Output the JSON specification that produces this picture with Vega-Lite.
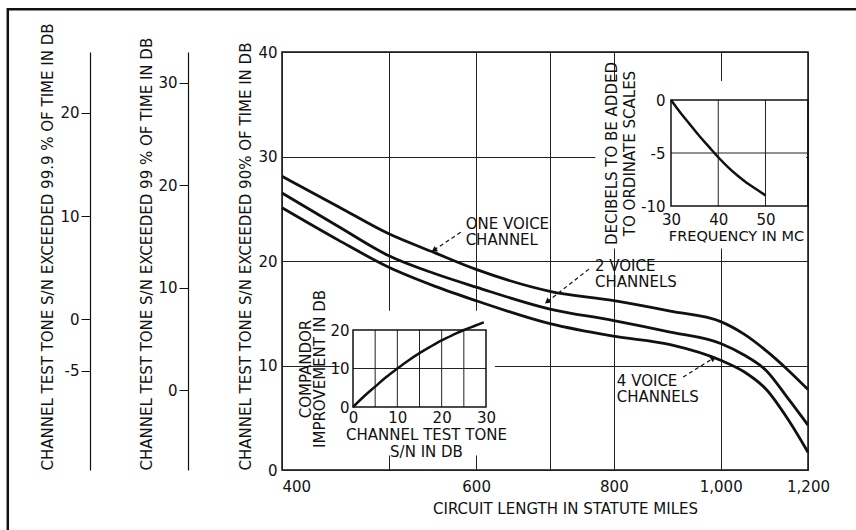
{
  "$schema": "https://vega.github.io/schema/vega-lite/v6.json",
  "width": 526,
  "height": 418,
  "autosize": {"type": "none"},
  "padding": {"left": 282, "top": 52, "right": 48, "bottom": 60},
  "background": "white",
  "config": {
    "font": "DejaVu Sans",
    "view": {"stroke": "#111", "strokeWidth": 1.5},
    "axis": {
      "labelFont": "DejaVu Sans", "titleFont": "DejaVu Sans",
      "labelFontSize": 15, "titleFontSize": 15, "titleFontWeight": "normal",
      "labelColor": "#111", "titleColor": "#111", "domainColor": "#111", "tickColor": "#111",
      "gridColor": "#222", "gridOpacity": 1, "gridWidth": 1,
      "labelOverlap": false, "labelBound": false, "labelFlush": false
    },
    "text": {"font": "DejaVu Sans", "fontSize": 15, "color": "#111"}
  },
  "datasets": {
    "curves": [
      {"series": "one", "miles": 400, "db": 28.1}, {"series": "one", "miles": 450, "db": 25.2}, {"series": "one", "miles": 500, "db": 22.6}, {"series": "one", "miles": 550, "db": 20.8}, {"series": "one", "miles": 600, "db": 19.2}, {"series": "one", "miles": 700, "db": 17.1}, {"series": "one", "miles": 800, "db": 16.2}, {"series": "one", "miles": 900, "db": 15.2}, {"series": "one", "miles": 1000, "db": 14.2}, {"series": "one", "miles": 1050, "db": 13.0}, {"series": "one", "miles": 1100, "db": 11.4}, {"series": "one", "miles": 1150, "db": 9.6}, {"series": "one", "miles": 1200, "db": 7.7},
      {"series": "two", "miles": 400, "db": 26.5}, {"series": "two", "miles": 450, "db": 23.3}, {"series": "two", "miles": 500, "db": 20.5}, {"series": "two", "miles": 550, "db": 18.8}, {"series": "two", "miles": 600, "db": 17.5}, {"series": "two", "miles": 700, "db": 15.4}, {"series": "two", "miles": 800, "db": 14.3}, {"series": "two", "miles": 900, "db": 13.2}, {"series": "two", "miles": 1000, "db": 12.1}, {"series": "two", "miles": 1050, "db": 11.0}, {"series": "two", "miles": 1100, "db": 9.5}, {"series": "two", "miles": 1150, "db": 6.9}, {"series": "two", "miles": 1200, "db": 4.3},
      {"series": "four", "miles": 400, "db": 25.1}, {"series": "four", "miles": 450, "db": 22.0}, {"series": "four", "miles": 500, "db": 19.4}, {"series": "four", "miles": 550, "db": 17.6}, {"series": "four", "miles": 600, "db": 16.2}, {"series": "four", "miles": 700, "db": 14.0}, {"series": "four", "miles": 800, "db": 12.8}, {"series": "four", "miles": 900, "db": 12.0}, {"series": "four", "miles": 1000, "db": 10.5}, {"series": "four", "miles": 1050, "db": 9.4}, {"series": "four", "miles": 1100, "db": 7.7}, {"series": "four", "miles": 1150, "db": 4.9}, {"series": "four", "miles": 1200, "db": 1.7}
    ],
    "labels": [
      {"miles": 587, "db": 23.5, "label": "ONE VOICE\nCHANNEL"},
      {"miles": 769, "db": 19.5, "label": "2 VOICE\nCHANNELS"},
      {"miles": 805, "db": 8.5, "label": "4 VOICE\nCHANNELS"}
    ],
    "arrows": [
      {"arrow": "a1", "miles": 582, "db": 22.8}, {"arrow": "a1", "miles": 549.5, "db": 21.05},
      {"arrow": "a2", "miles": 761, "db": 19.3}, {"arrow": "a2", "miles": 696, "db": 16.1},
      {"arrow": "a3", "miles": 924.6, "db": 8.9}, {"arrow": "a3", "miles": 985, "db": 10.7}
    ],
    "freq": [
      {"f": 30, "d": 0}, {"f": 32, "d": -1.2}, {"f": 34, "d": -2.3}, {"f": 36, "d": -3.4}, {"f": 38, "d": -4.4}, {"f": 40, "d": -5.4}, {"f": 42, "d": -6.3}, {"f": 44, "d": -7.1}, {"f": 46, "d": -7.8}, {"f": 48, "d": -8.4}, {"f": 50, "d": -9.0}
    ],
    "freqGrid": [{"f": 40}, {"f": 50}],
    "comp": [
      {"s": 0, "c": 0}, {"s": 2.5, "c": 2.8}, {"s": 5, "c": 5.3}, {"s": 7.5, "c": 7.8}, {"s": 10, "c": 10.0}, {"s": 12.5, "c": 12.1}, {"s": 15, "c": 14.0}, {"s": 17.5, "c": 15.7}, {"s": 20, "c": 17.3}, {"s": 22.5, "c": 18.7}, {"s": 25, "c": 20.0}, {"s": 27.5, "c": 21.1}, {"s": 29.5, "c": 22.0}
    ],
    "compGrid": [{"s": 5}, {"s": 10}, {"s": 15}, {"s": 20}, {"s": 25}],
    "ax1": [{"v": -5}, {"v": 0}, {"v": 10}, {"v": 20}],
    "ax2": [{"v": 0}, {"v": 10}, {"v": 20}, {"v": 30}]
  },
  "resolve": {
    "scale": {"x": "independent", "y": "independent"},
    "axis": {"x": "independent", "y": "independent"}
  },
  "layer": [
    {
      "data": {"values": [{}]},
      "mark": {"type": "rect", "fill": null, "filled": false, "stroke": "#111", "strokeWidth": 2.5},
      "encoding": {
        "x": {"datum": 225.6, "type": "quantitative", "scale": {"type": "log", "domain": [400, 1200], "nice": false}, "axis": null},
        "x2": {"datum": 1366},
        "y": {"datum": 44.1, "type": "quantitative", "scale": {"domain": [0, 40], "nice": false, "zero": false}, "axis": null},
        "y2": {"datum": -6.7}
      }
    },
    {
      "data": {"name": "curves"},
      "mark": {"type": "line", "color": "#111", "strokeWidth": 2.8, "interpolate": "monotone"},
      "encoding": {
        "x": {
          "field": "miles", "type": "quantitative",
          "scale": {"type": "log", "domain": [400, 1200], "nice": false},
          "axis": {
            "orient": "bottom", "values": [400, 500, 600, 700, 800, 1000, 1200],
            "labelExpr": "datum.value == 500 || datum.value == 700 ? '' : format(datum.value, ',')",
            "labelAlign": {"condition": {"test": "datum.value == 400", "value": "left"}, "value": "center"},
            "grid": true, "ticks": false, "tickSize": 0, "domain": false, "labelPadding": 9.5,
            "title": "CIRCUIT LENGTH IN STATUTE MILES", "titlePadding": 7, "titleX": 283, "zindex": 0
          }
        },
        "y": {
          "field": "db", "type": "quantitative",
          "scale": {"domain": [0, 40], "nice": false, "zero": false},
          "axis": {
            "orient": "left", "values": [0, 10, 20, 30, 40], "grid": true, "ticks": false, "tickSize": 0,
            "domain": false, "labelPadding": 5,
            "title": "CHANNEL TEST TONE S/N EXCEEDED 90% OF TIME IN DB", "titleAnchor": "start", "titlePadding": 4, "zindex": 0
          }
        },
        "detail": {"field": "series"}
      }
    },
    {
      "data": {"name": "labels"},
      "mark": {"type": "text", "align": "left", "baseline": "middle", "fontSize": 15, "lineHeight": 16, "lineBreak": "\n", "color": "#111"},
      "encoding": {
        "x": {"field": "miles", "type": "quantitative", "scale": {"type": "log", "domain": [400, 1200], "nice": false}, "axis": null},
        "y": {"field": "db", "type": "quantitative", "scale": {"domain": [0, 40], "nice": false, "zero": false}, "axis": null},
        "text": {"field": "label"}
      }
    },
    {
      "data": {"name": "arrows"},
      "mark": {"type": "line", "color": "#111", "strokeWidth": 1.2, "strokeDash": [4, 3]},
      "encoding": {
        "x": {"field": "miles", "type": "quantitative", "scale": {"type": "log", "domain": [400, 1200], "nice": false}, "axis": null},
        "y": {"field": "db", "type": "quantitative", "scale": {"domain": [0, 40], "nice": false, "zero": false}, "axis": null},
        "detail": {"field": "arrow"}
      }
    },
    {
      "data": {"values": [{}]},
      "mark": {"type": "point", "shape": "triangle-up", "filled": true, "color": "#111", "opacity": 1, "size": 40, "angle": 237},
      "encoding": {
        "x": {"datum": 549.5, "type": "quantitative", "scale": {"type": "log", "domain": [400, 1200], "nice": false}, "axis": null},
        "y": {"datum": 21.05, "type": "quantitative", "scale": {"domain": [0, 40], "nice": false, "zero": false}, "axis": null}
      }
    },
    {
      "data": {"values": [{}]},
      "mark": {"type": "point", "shape": "triangle-up", "filled": true, "color": "#111", "opacity": 1, "size": 40, "angle": 232},
      "encoding": {
        "x": {"datum": 696, "type": "quantitative", "scale": {"type": "log", "domain": [400, 1200], "nice": false}, "axis": null},
        "y": {"datum": 16.1, "type": "quantitative", "scale": {"domain": [0, 40], "nice": false, "zero": false}, "axis": null}
      }
    },
    {
      "data": {"values": [{}]},
      "mark": {"type": "point", "shape": "triangle-up", "filled": true, "color": "#111", "opacity": 1, "size": 40, "angle": 58},
      "encoding": {
        "x": {"datum": 985, "type": "quantitative", "scale": {"type": "log", "domain": [400, 1200], "nice": false}, "axis": null},
        "y": {"datum": 10.7, "type": "quantitative", "scale": {"domain": [0, 40], "nice": false, "zero": false}, "axis": null}
      }
    },
    {
      "data": {"name": "ax1"},
      "mark": {"type": "point", "opacity": 0},
      "encoding": {
        "y": {
          "field": "v", "type": "quantitative",
          "scale": {"domain": [-14.6, 25.9], "nice": false, "zero": false},
          "axis": {
            "orient": "left", "offset": 192, "values": [-5, 0, 10, 20], "labelExpr": "'' + datum.value",
            "grid": false, "tickSize": 9, "labelPadding": 2, "domainWidth": 1.2,
            "title": "CHANNEL TEST TONE S/N EXCEEDED 99.9 % OF TIME IN DB", "titleAnchor": "start", "titlePadding": 4
          }
        }
      }
    },
    {
      "data": {"name": "ax2"},
      "mark": {"type": "point", "opacity": 0},
      "encoding": {
        "y": {
          "field": "v", "type": "quantitative",
          "scale": {"domain": [-7.8, 33.0], "nice": false, "zero": false},
          "axis": {
            "orient": "left", "offset": 94, "values": [0, 10, 20, 30],
            "grid": false, "tickSize": 9, "labelPadding": 2, "domainWidth": 1.2,
            "title": "CHANNEL TEST TONE S/N EXCEEDED 99 % OF TIME IN DB", "titleAnchor": "start", "titlePadding": 3
          }
        }
      }
    },
    {
      "data": {"values": [{}]},
      "mark": {"type": "rect", "fill": "white", "strokeWidth": 0},
      "encoding": {
        "x": {"datum": 14, "type": "quantitative", "scale": {"domain": [30, 59], "range": [389, 526], "nice": false, "zero": false}, "axis": null},
        "x2": {"datum": 58.6},
        "y": {"datum": 1.8, "type": "quantitative", "scale": {"domain": [-10, 0], "range": [154, 48], "nice": false, "zero": false}, "axis": null},
        "y2": {"datum": -14}
      }
    },
    {
      "data": {"name": "freqGrid"},
      "mark": {"type": "rule", "color": "#222", "strokeWidth": 1},
      "encoding": {
        "x": {"field": "f", "type": "quantitative", "scale": {"domain": [30, 59], "range": [389, 526], "nice": false, "zero": false}, "axis": null},
        "y": {"datum": -10, "type": "quantitative", "scale": {"domain": [-10, 0], "range": [154, 48], "nice": false, "zero": false}, "axis": null},
        "y2": {"datum": 0}
      }
    },
    {
      "data": {"values": [{}]},
      "mark": {"type": "rule", "color": "#222", "strokeWidth": 1},
      "encoding": {
        "x": {"datum": 30, "type": "quantitative", "scale": {"domain": [30, 59], "range": [389, 526], "nice": false, "zero": false}, "axis": null},
        "x2": {"datum": 59},
        "y": {"datum": -5, "type": "quantitative", "scale": {"domain": [-10, 0], "range": [154, 48], "nice": false, "zero": false}, "axis": null}
      }
    },
    {
      "data": {"values": [{}]},
      "mark": {"type": "rect", "filled": false, "fill": null, "stroke": "#111", "strokeWidth": 1.5},
      "encoding": {
        "x": {"datum": 30, "type": "quantitative", "scale": {"domain": [30, 59], "range": [389, 526], "nice": false, "zero": false}, "axis": null},
        "x2": {"datum": 59},
        "y": {"datum": -10, "type": "quantitative", "scale": {"domain": [-10, 0], "range": [154, 48], "nice": false, "zero": false}, "axis": null},
        "y2": {"datum": 0}
      }
    },
    {
      "data": {"name": "freq"},
      "mark": {"type": "line", "color": "#111", "strokeWidth": 2.5, "interpolate": "monotone"},
      "encoding": {
        "x": {
          "field": "f", "type": "quantitative",
          "scale": {"domain": [30, 59], "range": [389, 526], "nice": false, "zero": false},
          "axis": {
            "orient": "bottom", "offset": -264, "values": [30, 40, 50], "grid": false, "ticks": false, "tickSize": 0,
            "domain": false, "labelPadding": 6.5, "title": "FREQUENCY IN MC", "titleFontSize": 14.5, "titleX": 454, "titlePadding": 2, "zindex": 1
          }
        },
        "y": {
          "field": "d", "type": "quantitative",
          "scale": {"domain": [-10, 0], "range": [154, 48], "nice": false, "zero": false},
          "axis": {
            "orient": "left", "offset": -389, "values": [0, -5, -10], "labelExpr": "'' + datum.value",
            "grid": false, "ticks": false, "tickSize": 0, "domain": false, "labelPadding": 6,
            "title": ["DECIBELS TO BE ADDED", "TO ORDINATE SCALES"], "titlePadding": 3, "titleLineHeight": 18, "zindex": 1
          }
        }
      }
    },
    {
      "data": {"values": [{}]},
      "mark": {"type": "rect", "fill": "white", "strokeWidth": 0},
      "encoding": {
        "x": {"datum": -3, "type": "quantitative", "scale": {"domain": [0, 30], "range": [71, 204], "nice": false, "zero": false}, "axis": null},
        "x2": {"datum": 32},
        "y": {"datum": 25, "type": "quantitative", "scale": {"domain": [0, 20], "range": [355, 278], "nice": false, "zero": false}, "axis": null},
        "y2": {"datum": -12.6}
      }
    },
    {
      "data": {"name": "compGrid"},
      "mark": {"type": "rule", "color": "#222", "strokeWidth": 1},
      "encoding": {
        "x": {"field": "s", "type": "quantitative", "scale": {"domain": [0, 30], "range": [71, 204], "nice": false, "zero": false}, "axis": null},
        "y": {"datum": 0, "type": "quantitative", "scale": {"domain": [0, 20], "range": [355, 278], "nice": false, "zero": false}, "axis": null},
        "y2": {"datum": 20}
      }
    },
    {
      "data": {"values": [{}]},
      "mark": {"type": "rule", "color": "#222", "strokeWidth": 1},
      "encoding": {
        "x": {"datum": 0, "type": "quantitative", "scale": {"domain": [0, 30], "range": [71, 204], "nice": false, "zero": false}, "axis": null},
        "x2": {"datum": 30},
        "y": {"datum": 10, "type": "quantitative", "scale": {"domain": [0, 20], "range": [355, 278], "nice": false, "zero": false}, "axis": null}
      }
    },
    {
      "data": {"values": [{}]},
      "mark": {"type": "rect", "filled": false, "fill": null, "stroke": "#111", "strokeWidth": 1.5},
      "encoding": {
        "x": {"datum": 0, "type": "quantitative", "scale": {"domain": [0, 30], "range": [71, 204], "nice": false, "zero": false}, "axis": null},
        "x2": {"datum": 30},
        "y": {"datum": 0, "type": "quantitative", "scale": {"domain": [0, 20], "range": [355, 278], "nice": false, "zero": false}, "axis": null},
        "y2": {"datum": 20}
      }
    },
    {
      "data": {"name": "comp"},
      "mark": {"type": "line", "color": "#111", "strokeWidth": 2.5, "interpolate": "monotone"},
      "encoding": {
        "x": {
          "field": "s", "type": "quantitative",
          "scale": {"domain": [0, 30], "range": [71, 204], "nice": false, "zero": false},
          "axis": {
            "orient": "bottom", "offset": -63, "values": [0, 10, 20, 30], "grid": false, "ticks": false, "tickSize": 0,
            "domain": false, "labelPadding": 3.5, "title": ["CHANNEL TEST TONE", "S/N IN DB"], "titleX": 144, "titlePadding": 2, "titleLineHeight": 17, "zindex": 1
          }
        },
        "y": {
          "field": "c", "type": "quantitative",
          "scale": {"domain": [0, 20], "range": [355, 278], "nice": false, "zero": false},
          "axis": {
            "orient": "left", "offset": -71, "values": [0, 10, 20],
            "grid": false, "ticks": false, "tickSize": 0, "domain": false, "labelPadding": 4,
            "title": ["COMPANDOR", "IMPROVEMENT IN DB"], "titlePadding": 2, "titleLineHeight": 14, "zindex": 1
          }
        }
      }
    }
  ]
}
